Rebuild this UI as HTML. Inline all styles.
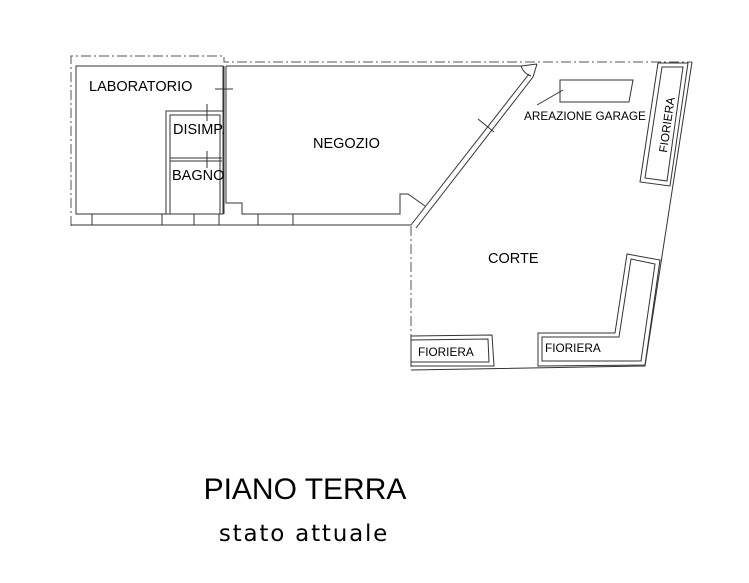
<!DOCTYPE html>
<html><head><style>
body{margin:0;background:#fff;}
svg{display:block;}
text{font-family:"Liberation Sans",sans-serif;fill:#000;}
</style></head><body>
<svg width="749" height="583" viewBox="0 0 749 583" xmlns="http://www.w3.org/2000/svg">
<g fill="none" stroke="#555" stroke-width="1" stroke-dasharray="10,3,2,3">
<polyline points="71,226 71,56 224,56 224,62 692,62"/>
<line x1="411" y1="226" x2="411" y2="370"/>
</g>
<g fill="none" stroke="#333" stroke-width="1">
<line x1="71" y1="225" x2="411" y2="225"/>
<rect x="76" y="66" width="147" height="148"/>
<line x1="224" y1="66" x2="224" y2="214"/>
<polyline points="226,66 226,203 242,203 242,214 400,214 400,194 408,194 425,206"/>
<polyline points="226,66 521,66 537,64"/>
<line x1="529" y1="74" x2="411" y2="225"/>
<line x1="533" y1="77" x2="416" y2="228"/>
<path d="M521,66 Q524,74 531,76"/>
<line x1="537" y1="64" x2="533" y2="77"/>
<rect x="92" y="214" width="70" height="11"/>
<rect x="194" y="214" width="25" height="11"/>
<rect x="258" y="214" width="35" height="11"/>
<rect x="166" y="111" width="57" height="103"/>
<rect x="170" y="115" width="50" height="99"/>
<line x1="170" y1="158" x2="222" y2="158"/>
<line x1="170" y1="161" x2="222" y2="161"/>
<line x1="215" y1="89" x2="233" y2="89"/>
<line x1="207" y1="104" x2="207" y2="121"/>
<line x1="207" y1="151" x2="207" y2="168"/>
<line x1="478" y1="119" x2="494" y2="132"/>
<polyline points="692,62 645,366 411,370"/>
<polygon points="658,63 688,63 670,186 640,182"/>
<polygon points="662,67 683,67 667,181 645,178"/>
<polygon points="560,80 633,80 629,102 560,102"/>
<line x1="563" y1="90" x2="537" y2="105"/>
<polygon points="538,333 615,333 627,254 660,260 645,365 538,366"/>
<polygon points="542,337 619,337 631,259 655,264 641,361 542,361"/>
<polygon points="411,336 492,335 494,366 411,366"/>
<polygon points="411,340 488,339 489,362 411,362"/>
</g>
<g font-size="14.5">
<text x="89" y="91">LABORATORIO</text>
<text x="173" y="134">DISIMP.</text>
<text x="172" y="180">BAGNO</text>
<text x="313" y="148">NEGOZIO</text>
<text x="488" y="263">CORTE</text>
</g>
<g font-size="11.8">
<text x="524" y="120">AREAZIONE GARAGE</text>
<text x="545" y="352">FIORIERA</text>
<text x="418" y="356">FIORIERA</text>
<text transform="translate(667,153) rotate(-82)">FIORIERA</text>
</g>
<text x="305" y="499" font-size="30" text-anchor="middle">PIANO TERRA</text>
<text x="304" y="541" font-size="23" text-anchor="middle" letter-spacing="1.8" style="font-family:'DejaVu Sans',sans-serif">stato attuale</text>
</svg>
</body></html>
